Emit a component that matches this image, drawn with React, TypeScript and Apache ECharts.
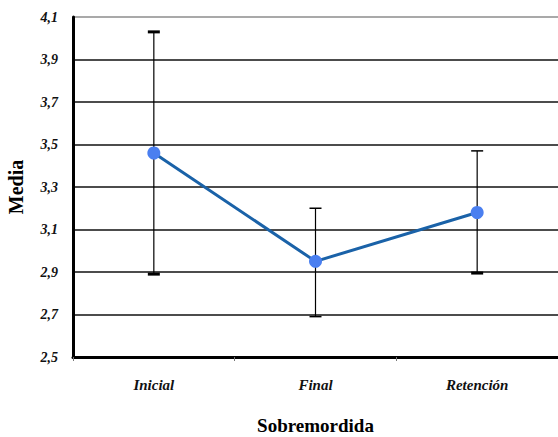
import React, { useEffect, useRef } from "react";
import * as echarts from "echarts";

const categories = ["Inicial", "Final", "Retención"];
const means = [3.46, 2.95, 3.18];
const upper = [4.03, 3.2, 3.47];
const lower = [2.89, 2.69, 2.895];
const yMin = 2.5;
const yMax = 4.1;
const yStep = 0.2;

const SERIF = "Liberation Serif";

export default function App() {
  const ref = useRef<HTMLDivElement>(null);
  useEffect(() => {
    if (!ref.current) return;
    const chart = echarts.init(ref.current, null, { renderer: "svg" });
    const nLines = Math.round((yMax - yMin) / yStep) + 1;
    const lineColors = Array.from({ length: nLines }, (_, i) => (i === nLines - 1 ? "#8c8c8c" : "#111"));
    const errData = categories.map((_, i) => [i, lower[i], upper[i]]);
    const thickTop = [true, false, false];
    const thickBottom = [true, false, true];
    chart.setOption({
      animation: false,
      backgroundColor: "#fff",
      textStyle: { fontFamily: SERIF },
      grid: { left: 73, right: 0, top: 17, bottom: 80, containLabel: false, outerBoundsMode: "none" },
      xAxis: {
        type: "category",
        data: categories,
        boundaryGap: true,
        axisLine: { show: true, lineStyle: { color: "#000", width: 3 } },
        axisTick: { show: true, length: 4, lineStyle: { color: "#777", width: 1 } },
        axisLabel: {
          margin: 20,
          fontFamily: SERIF,
          fontStyle: "italic",
          fontWeight: "bold",
          fontSize: 15,
          color: "#111",
        },
        name: "Sobremordida",
        nameLocation: "middle",
        nameGap: 59,
        nameTextStyle: { fontFamily: SERIF, fontWeight: "bold", fontSize: 19, color: "#000" },
        splitLine: { show: false },
      },
      yAxis: {
        type: "value",
        min: yMin,
        max: yMax,
        interval: yStep,
        axisLine: { show: true, lineStyle: { color: "#000", width: 3 } },
        axisTick: { show: false },
        axisLabel: {
          margin: 15,
          fontFamily: SERIF,
          fontStyle: "italic",
          fontWeight: "bold",
          fontSize: 14,
          color: "#111",
          padding: [6, 0, 0, 0],
          formatter: (v: number) => v.toFixed(1).replace(".", ","),
        },
        splitLine: { show: true, showMinLine: true, showMaxLine: true, lineStyle: { color: lineColors, width: 1.6 } },
        name: "Media",
        nameLocation: "middle",
        nameGap: 47,
        nameRotate: 90,
        nameTextStyle: { fontFamily: SERIF, fontWeight: "bold", fontSize: 20, color: "#000" },
      },
      series: [
        {
          type: "custom",
          z: 2,
          data: errData,
          renderItem: (params: any, api: any) => {
            const idx = api.value(0);
            const lo = api.coord([idx, api.value(1)]);
            const hi = api.coord([idx, api.value(2)]);
            const hw = 6;
            const i = params.dataIndex;
            return {
              type: "group",
              children: [
                { type: "line", shape: { x1: hi[0], y1: hi[1], x2: lo[0], y2: lo[1] }, style: { stroke: "#000", lineWidth: 1.2 } },
                { type: "line", shape: { x1: hi[0] - hw, y1: hi[1], x2: hi[0] + hw, y2: hi[1] }, style: { stroke: "#000", lineWidth: thickTop[i] ? 3 : 1.5 } },
                { type: "line", shape: { x1: lo[0] - hw, y1: lo[1], x2: lo[0] + hw, y2: lo[1] }, style: { stroke: "#000", lineWidth: thickBottom[i] ? 3 : 1.5 } },
              ],
            };
          },
        },
        {
          type: "line",
          z: 3,
          data: means,
          symbol: "circle",
          symbolSize: 13,
          lineStyle: { color: "#1a62a8", width: 3 },
          itemStyle: { color: "#4a7ff0", borderWidth: 0 },
        },
      ],
    });
    return () => chart.dispose();
  }, []);
  return <div ref={ref} style={{ position: "fixed", left: 0, top: 0, width: 558, height: 437 }} />;
}
